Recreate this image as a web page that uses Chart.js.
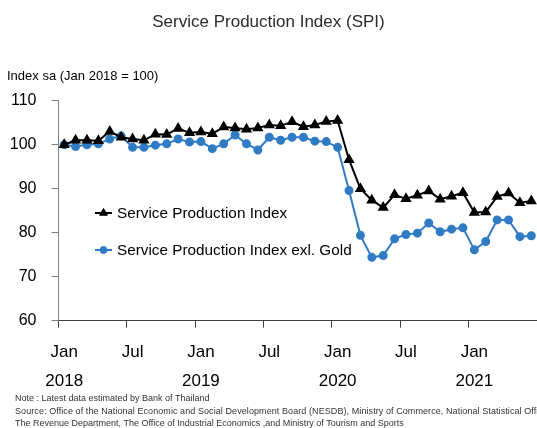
<!DOCTYPE html>
<html><head><meta charset="utf-8">
<script src="https://cdn.jsdelivr.net/npm/chart.js@4.4.1/dist/chart.umd.min.js"></script>
<style>
html,body{margin:0;padding:0;background:#fff;overflow:hidden}
#wrap{position:relative;width:537px;height:428px;overflow:hidden;background:#fff}
canvas{position:absolute;left:0;top:0}
.t{position:absolute;white-space:nowrap;font-family:"Liberation Sans",Arial,sans-serif}
</style></head><body>
<div id="wrap">
<canvas id="c" width="537" height="428"></canvas>
<div class="t" style="left:0;width:537px;text-align:center;top:12px;font-size:17px;line-height:20px;color:#2b2b2b">Service Production Index (SPI)</div>
<div class="t" style="left:7px;top:68px;font-size:13px;line-height:16px;color:#000">Index sa (Jan&nbsp;2018 = 100)</div>
<div class="t" style="left:15px;top:392px;font-size:9px;line-height:12px;color:#333">Note : Latest data estimated by Bank of Thailand</div>
<div class="t" style="left:15px;top:405px;font-size:9px;line-height:12px;color:#333;letter-spacing:0.08px">Source: Office of the National Economic and Social Development Board (NESDB), Ministry of Commerce, National Statistical Office,</div>
<div class="t" style="left:15px;top:417px;font-size:9px;line-height:12px;color:#333">The Revenue Department, The Office of Industrial Economics ,and Ministry of Tourism and Sports</div>
</div>
<script>
const categories = [
 '2018-01','2018-02','2018-03','2018-04','2018-05','2018-06','2018-07','2018-08','2018-09','2018-10','2018-11','2018-12',
 '2019-01','2019-02','2019-03','2019-04','2019-05','2019-06','2019-07','2019-08','2019-09','2019-10','2019-11','2019-12',
 '2020-01','2020-02','2020-03','2020-04','2020-05','2020-06','2020-07','2020-08','2020-09','2020-10','2020-11','2020-12',
 '2021-01','2021-02','2021-03','2021-04','2021-05','2021-06'];
const spi = [
 100.0,101.0,101.0,100.9,103.0,101.7,101.3,101.0,102.4,102.3,103.7,102.7,
 102.9,102.5,104.0,103.8,103.5,103.8,104.5,104.3,105.2,104.1,104.5,105.3,
 105.5,96.6,90.0,87.4,85.7,88.6,87.7,88.5,89.5,87.6,88.3,89.1,
 84.6,84.7,88.2,89.0,86.8,87.2];
const spiExGold = [
 100.0,99.6,100.0,100.2,101.3,102.0,99.4,99.4,99.9,100.2,101.3,100.6,
 100.7,99.1,100.2,102.2,100.2,98.8,101.7,101.0,101.7,101.7,100.8,100.7,
 99.4,89.6,79.4,74.4,74.8,78.6,79.6,79.9,82.2,80.2,80.8,81.1,
 76.1,78.0,82.9,82.9,79.1,79.3];
const seriesNames = ['Service Production Index','Service Production Index exl. Gold'];
const xTickLabels = {0:['Jan','2018'],6:'Jul',12:['Jan','2019'],18:'Jul',24:['Jan','2020'],30:'Jul',36:['Jan','2021']};
const yTicks = [60,70,80,90,100,110];

const BLUE = '#2F7BC4';
const FONT = '"Liberation Sans", Arial, sans-serif';

const legendPlugin = {
  id: 'inlegend',
  afterDraw(chart) {
    const ctx = chart.ctx;
    const rows = [{i:0, y:213}, {i:1, y:250}];
    ctx.save();
    rows.forEach(r => {
      const ds = chart.data.datasets[r.i];
      ctx.strokeStyle = ds.borderColor;
      ctx.fillStyle = ds.pointBackgroundColor;
      ctx.lineWidth = 2;
      ctx.beginPath(); ctx.moveTo(95, r.y); ctx.lineTo(112, r.y); ctx.stroke();
      ctx.lineWidth = 1;
      Chart.helpers.drawPoint(ctx, {pointStyle: ds.pointStyle, radius: ds.pointRadius, borderWidth: 1, rotation: 0}, 103.5, r.y);
      ctx.fillStyle = '#000';
      ctx.font = '15.3px ' + FONT;
      ctx.textBaseline = 'middle';
      ctx.textAlign = 'left';
      ctx.fillText(ds.label, 117, r.y + 1);
    });
    ctx.restore();
  }
};

new Chart(document.getElementById('c'), {
  type: 'line',
  data: {
    labels: categories,
    datasets: [
      {label: seriesNames[0], data: spi, borderColor: '#000', backgroundColor: '#000',
       pointBackgroundColor: '#000', pointBorderColor: '#000', pointStyle: 'triangle',
       pointRadius: 4.5, borderWidth: 2, tension: 0, clip: false},
      {label: seriesNames[1], data: spiExGold, borderColor: BLUE, backgroundColor: BLUE,
       pointBackgroundColor: BLUE, pointBorderColor: BLUE, pointStyle: 'circle',
       pointRadius: 3.5, borderWidth: 2, tension: 0, clip: false}
    ]
  },
  options: {
    responsive: false, animation: false, devicePixelRatio: 1,
    layout: {autoPadding: false, padding: {top: 100.7, left: 0, right: 0, bottom: 0}},
    plugins: {legend: {display: false}, tooltip: {enabled: false}, title: {display: false}},
    scales: {
      x: {
        type: 'category', offset: true,
        grid: {offset: true, drawOnChartArea: false, drawTicks: true, tickLength: 7,
               color: c => (c.index !== undefined && c.index % 6 === 0) ? '#404040' : 'rgba(0,0,0,0)', lineWidth: 1},
        border: {color: '#404040', width: 1},
        ticks: {autoSkip: false, maxRotation: 0, minRotation: 0, padding: 10, color: '#000',
                font: {family: FONT, size: 17, lineHeight: 1.72},
                callback: (v, i) => xTickLabels[i] !== undefined ? xTickLabels[i] : ''},
        afterFit: s => { s.height = 428 - 320.7; s.paddingRight = 0; s.paddingLeft = 0; }
      },
      y: {
        min: 60, max: 110,
        afterBuildTicks: s => { s.ticks = yTicks.map(v => ({value: v})); },
        grid: {drawOnChartArea: false, drawTicks: true, tickLength: 7, color: '#808080'},
        border: {color: '#808080', width: 1},
        ticks: {padding: 15, color: '#000', font: {family: FONT, size: 16}},
        afterFit: s => { s.width = 58.5; s.paddingTop = 0; s.paddingBottom = 0; }
      }
    }
  },
  plugins: [legendPlugin]
});
</script>
</body></html>
